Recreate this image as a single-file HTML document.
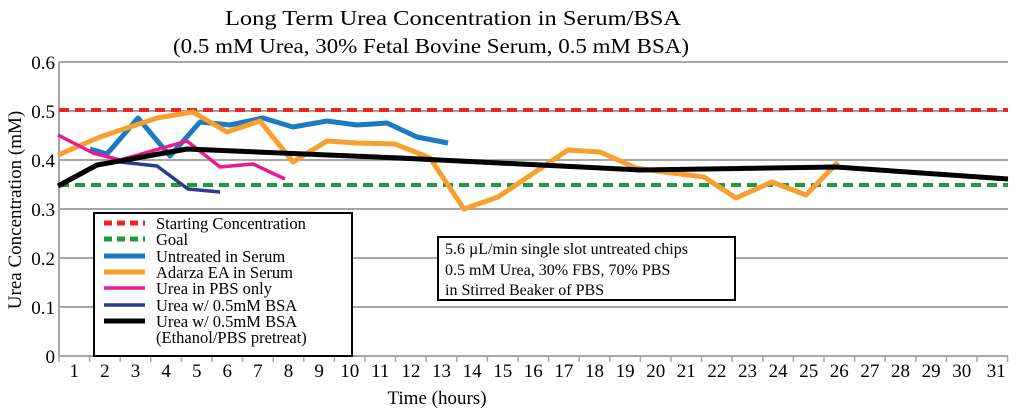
<!DOCTYPE html>
<html><head><meta charset="utf-8"><style>html,body{margin:0;padding:0;background:#fff;}svg{display:block}</style></head>
<body>
<svg width="1024" height="412" viewBox="0 0 1024 412" xmlns="http://www.w3.org/2000/svg" font-family="Liberation Serif, serif">
<rect width="1024" height="412" fill="#fff"/>
<text x="453" y="25" font-size="21" text-anchor="middle" textLength="456" lengthAdjust="spacingAndGlyphs">Long Term Urea Concentration in Serum/BSA</text>
<text x="431" y="53" font-size="21" text-anchor="middle" textLength="516" lengthAdjust="spacingAndGlyphs">(0.5 mM Urea, 30% Fetal Bovine Serum, 0.5 mM BSA)</text>
<g stroke="#a6a6a6" stroke-width="2">
<line x1="59" y1="62" x2="1008" y2="62"/>
<line x1="59" y1="111" x2="1008" y2="111"/>
<line x1="59" y1="160" x2="1008" y2="160"/>
<line x1="59" y1="209" x2="1008" y2="209"/>
<line x1="59" y1="258" x2="1008" y2="258"/>
<line x1="59" y1="307" x2="1008" y2="307"/>
<line x1="59" y1="356" x2="1008" y2="356"/>
<line x1="59" y1="62" x2="59" y2="356"/>
</g>
<g stroke="#a6a6a6" stroke-width="1.5" id="ticks"></g>
<g font-size="19" text-anchor="end">
<text x="55" y="69">0.6</text><text x="55" y="118">0.5</text><text x="55" y="167">0.4</text>
<text x="55" y="216">0.3</text><text x="55" y="265">0.2</text><text x="55" y="314">0.1</text><text x="55" y="363">0</text>
</g>
<text transform="translate(21,210) rotate(-90)" font-size="19" text-anchor="middle">Urea Concentration (mM)</text>
<g font-size="19" text-anchor="middle" id="xl"></g>
<text x="437" y="404" font-size="19" text-anchor="middle">Time (hours)</text>
<line x1="59" y1="110" x2="1008" y2="110" stroke="#ee2222" stroke-width="4" stroke-dasharray="10,6"/>
<line x1="59" y1="185" x2="1008" y2="185" stroke="#1f9a3e" stroke-width="4" stroke-dasharray="10,6"/>
<g fill="none" stroke-linejoin="round" stroke-width="5">
<polyline stroke="#1b7ac4" points="90,149 107,154 138,118 170,156 200,122 230,125 263,118 293,127 327,121 357,125 387,123 417,137 448,143"/>
<polyline stroke="#f7a030" points="58,155 100,137 157,118 193,112 227,132 260,121 293,162 327,141 357,143 395,144 430,158 464,209 498,197 568,150 600,152 636,168 664,172 704,177 736,198 772,182 806,195 838,162"/>
<polyline stroke="#ec1a8c" stroke-width="3.5" points="58,135 93,153 120,160 187,141 220,167 253,164 285,179"/>
<polyline stroke="#2e3a8c" stroke-width="3.5" points="120,162 157,166 188,189 220,192"/>
<polyline stroke="#000" stroke-width="5" points="58,186 97,165 187,149 400,158 640,170 836,167 1008,179"/>
</g>
<rect x="94" y="213" width="258" height="143" fill="#fff" stroke="#000" stroke-width="2"/>
<g stroke-width="5">
<line x1="104" y1="223" x2="145" y2="223" stroke="#ee2222" stroke-dasharray="8,5"/>
<line x1="104" y1="239" x2="145" y2="239" stroke="#1f9a3e" stroke-dasharray="8,5"/>
<line x1="104" y1="256" x2="145" y2="256" stroke="#1b7ac4"/>
<line x1="104" y1="272" x2="145" y2="272" stroke="#f7a030"/>
<line x1="104" y1="288" x2="145" y2="288" stroke="#ec1a8c" stroke-width="3.5"/>
<line x1="104" y1="305" x2="145" y2="305" stroke="#2e3a8c" stroke-width="3.5"/>
<line x1="104" y1="321" x2="145" y2="321" stroke="#000"/>
</g>
<g font-size="16.5">
<text x="156" y="229">Starting Concentration</text>
<text x="156" y="245">Goal</text>
<text x="156" y="262">Untreated in Serum</text>
<text x="156" y="278">Adarza EA in Serum</text>
<text x="156" y="294">Urea in PBS only</text>
<text x="156" y="311">Urea w/ 0.5mM BSA</text>
<text x="156" y="327">Urea w/ 0.5mM BSA</text>
<text x="156" y="343">(Ethanol/PBS pretreat)</text>
</g>
<rect x="438" y="237" width="297" height="63" fill="#fff" stroke="#000" stroke-width="2"/>
<g font-size="16">
<text x="445" y="254">5.6 µL/min single slot untreated chips</text>
<text x="445" y="275">0.5 mM Urea, 30% FBS, 70% PBS</text>
<text x="445" y="295">in Stirred Beaker of PBS</text>
</g>
<script>
var t=document.getElementById('ticks'),xl=document.getElementById('xl'),ns='http://www.w3.org/2000/svg';
for(var k=0;k<=31;k++){var x=59+k*30.6;var l=document.createElementNS(ns,'line');l.setAttribute('x1',x);l.setAttribute('x2',x);l.setAttribute('y1',356);l.setAttribute('y2',362);t.appendChild(l);}
for(var i=1;i<=31;i++){var e=document.createElementNS(ns,'text');e.setAttribute('x',59+(i-0.5)*30.6+(i==31?4:0));e.setAttribute('y',377);e.textContent=i;xl.appendChild(e);}
</script>
</svg>
</body></html>
